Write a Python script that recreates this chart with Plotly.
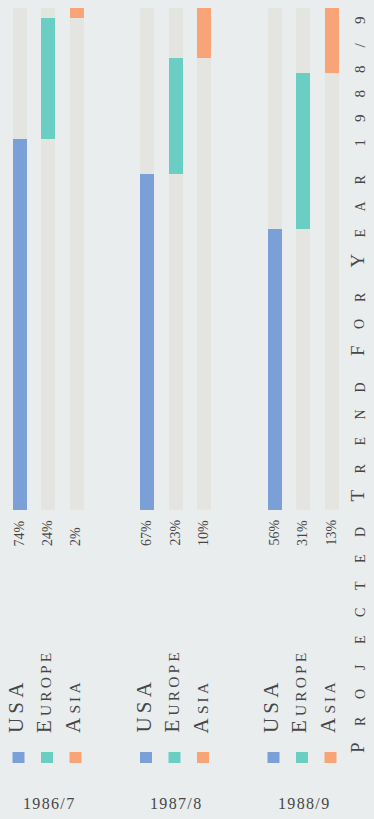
import plotly.graph_objects as go

# ---------------- data ----------------
years = ["1986/7", "1987/8", "1988/9"]
regions = ["USA", "Europe", "Asia"]
usa = [74, 67, 56]
europe = [24, 23, 31]
asia = [2, 10, 13]
title_text = "PROJECTED TREND FOR YEAR 1988/9"

# ---------------- style ----------------
W, H = 374, 819
BG = "#EAEDEE"
TRACK = "#E4E4E0"
COLORS = ["#7BA0D8", "#6BCEC3", "#F8A477"]
TXT = "#464646"
SERIF = "Liberation Serif, Times New Roman, serif"

GROUP0 = 19.5      # px centre of first bar
GROUP_STEP = 127.5
BAR_STEP = 28.5
BAR_W = 14
PLOT_TOP, PLOT_BOT = 8, 510


def px(x):
    return x / W


def py(y):
    return 1 - y / H


series = [usa, europe, asia]
bases = [
    [0, 0, 0],
    usa,
    [u + e for u, e in zip(usa, europe)],
]


def bar_x(g, s):
    return GROUP0 + g * GROUP_STEP + s * BAR_STEP


fig = go.Figure()

# background tracks
track_x = [bar_x(g, s) for g in range(len(years)) for s in range(len(regions))]
fig.add_trace(go.Bar(x=track_x, y=[100] * len(track_x), width=BAR_W,
                     marker=dict(color=TRACK, line=dict(width=0)),
                     hoverinfo="skip", showlegend=False))

for s, (name, vals) in enumerate(zip(regions, series)):
    fig.add_trace(go.Bar(
        x=[bar_x(g, s) for g in range(len(years))],
        y=vals, base=bases[s], width=BAR_W, name=name,
        marker=dict(color=COLORS[s], line=dict(width=0)),
        showlegend=False))

ann = []
shapes = []


def smallcaps(word, big, small):
    first, rest = word[0].upper(), word[1:].upper()
    sp = "\u2009"
    out = f"<span style='font-size:{big}px'>{first}</span>"
    if rest:
        out += sp + f"<span style='font-size:{small}px'>" + sp.join(rest) + "</span>"
    return out


for g, yr in enumerate(years):
    for s, name in enumerate(regions):
        cx = bar_x(g, s)
        base_line = cx + 4.5
        # percent labels
        val = series[s][g]
        ann.append(dict(text=f"{val}%", x=px(base_line + 4), y=py(548),
                        xref="paper", yref="paper", xanchor="right", yanchor="bottom",
                        textangle=-90, showarrow=False,
                        font=dict(family=SERIF, size=14, color=TXT)))
        # legend labels
        if name == "USA":
            label = "<span style='font-size:21px'>U\u2009S\u2009A</span>"
        else:
            label = smallcaps(name, 21, 15.5)
        ann.append(dict(text=label, x=px(base_line + 5.5), y=py(735),
                        xref="paper", yref="paper", xanchor="right", yanchor="bottom",
                        textangle=-90, showarrow=False,
                        font=dict(family=SERIF, size=21, color=TXT)))
        # legend squares
        shapes.append(dict(type="rect", xref="paper", yref="paper",
                           x0=px(cx - 7), x1=px(cx + 5), y0=py(763), y1=py(752),
                           fillcolor=COLORS[s], line=dict(width=0)))
    # year label
    ann.append(dict(text="\u200a".join(yr), x=px(bar_x(g, 1)), y=py(803),
                    xref="paper", yref="paper", xanchor="center", yanchor="middle",
                    showarrow=False, font=dict(family=SERIF, size=16, color=TXT)))

# title, one glyph at a time (letter-spaced small caps), reading bottom to top
pos = 748.0
first_of_word = True
for ch in title_text:
    if ch == " ":
        pos -= 9.5
        first_of_word = True
        continue
    big = first_of_word and ch.isalpha()
    size = 19 if big else (15 if ch.isdigit() or ch == "/" else 14)
    ann.append(dict(text=ch, x=px(369.5), y=py(pos), xref="paper", yref="paper",
                    xanchor="right", yanchor="middle", textangle=-90, showarrow=False,
                    font=dict(family=SERIF, size=size, color=TXT)))
    pos -= 27 if ch.isalpha() else 24.5
    first_of_word = False

fig.update_layout(
    width=W, height=H, margin=dict(l=0, r=0, t=0, b=0),
    paper_bgcolor=BG, plot_bgcolor=BG,
    barmode="overlay", bargap=0,
    xaxis=dict(range=[0, W], domain=[0, 1], visible=False, fixedrange=True),
    yaxis=dict(range=[0, 100], domain=[py(PLOT_BOT), py(PLOT_TOP)],
               visible=False, fixedrange=True),
    annotations=ann, shapes=shapes,
)

fig.write_html("out.html")
